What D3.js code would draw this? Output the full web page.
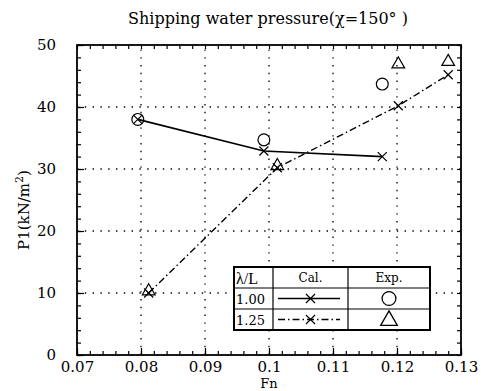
<!DOCTYPE html>
<html>
<head>
<meta charset="utf-8">
<script src="https://cdn.jsdelivr.net/npm/d3@7"></script>
<style>
body { margin: 0; background: #fff; }
svg { display: block; font-family: "DejaVu Serif", "Liberation Serif", serif; }
</style>
</head>
<body>
<script>
// values
const xTicks = [0.07, 0.08, 0.09, 0.1, 0.11, 0.12, 0.13];
const yTicks = [0, 10, 20, 30, 40, 50];

const fn100Cal = [0.0795, 0.0992, 0.1177];
const p100Cal = [38.0, 32.9, 32.0];
const fn125Cal = [0.0812, 0.1013, 0.1202, 0.1280];
const p125Cal = [10.0, 30.2, 40.2, 45.2];

const fn100Exp = [0.0795, 0.0992, 0.1177];
const p100Exp = [38.0, 34.7, 43.7];
const fn125Exp = [0.0812, 0.1013, 0.1202, 0.1280];
const p125Exp = [10.3, 30.5, 46.9, 47.3];

const legendRows = ["1.00", "1.25"];

const width = 481, height = 391;
const margin = { top: 45, right: 20, bottom: 36, left: 77 };

const svg = d3.select('body').append('svg')
    .attr('width', width).attr('height', height);

const xScale = d3.scaleLinear().domain([0.07, 0.13])
    .range([margin.left, width - margin.right]);
const yScale = d3.scaleLinear().domain([0, 50])
    .range([height - margin.bottom, margin.top]);

const x0 = xScale.range()[0], x1 = xScale.range()[1];
const y0 = yScale.range()[0], y1 = yScale.range()[1];

// grid (dotted)
const grid = svg.append('g').attr('stroke', '#000').attr('stroke-width', 1.3)
    .attr('stroke-dasharray', '1.4,6.4');
grid.selectAll('.gx').data(xTicks.slice(1, -1)).enter().append('line')
    .attr('x1', d => xScale(d)).attr('x2', d => xScale(d))
    .attr('y1', y0).attr('y2', y1);
grid.selectAll('.gy').data(yTicks.slice(1, -1)).enter().append('line')
    .attr('y1', d => yScale(d)).attr('y2', d => yScale(d))
    .attr('x1', x0).attr('x2', x1);

// minor tick values
const xMinor = d3.range(0, 31).map(i => 0.07 + i * 0.002);
const yMinor = d3.range(0, 26).map(i => i * 2);

// axes on four sides, ticks inward
function addAxis(axis, transform) {
    svg.append('g').attr('transform', transform).call(axis)
        .call(g => g.select('.domain').remove())
        .selectAll('line').attr('stroke-width', 1.2);
}
addAxis(d3.axisBottom(xScale).tickValues(xMinor).tickSizeInner(-4).tickFormat(''), `translate(0,${y0})`);
addAxis(d3.axisTop(xScale).tickValues(xMinor).tickSizeInner(-4).tickFormat(''), `translate(0,${y1})`);
addAxis(d3.axisLeft(yScale).tickValues(yMinor).tickSizeInner(-4).tickFormat(''), `translate(${x0},0)`);
addAxis(d3.axisRight(yScale).tickValues(yMinor).tickSizeInner(-4).tickFormat(''), `translate(${x1},0)`);

// major ticks + labels
const xAxis = svg.append('g').attr('transform', `translate(0,${y0})`)
    .call(d3.axisBottom(xScale).tickValues(xTicks).tickSizeInner(-7).tickSizeOuter(0)
        .tickPadding(6).tickFormat(d => d3.format('.2~f')(d)));
xAxis.select('.domain').remove();
xAxis.selectAll('line').attr('stroke-width', 1.2);
xAxis.selectAll('text').attr('font-size', 15).attr('fill', '#000')
    .attr('font-family', '"DejaVu Serif", serif');

const yAxis = svg.append('g').attr('transform', `translate(${x0},0)`)
    .call(d3.axisLeft(yScale).tickValues(yTicks).tickSizeInner(-7).tickSizeOuter(0)
        .tickPadding(21));
yAxis.select('.domain').remove();
yAxis.selectAll('line').attr('stroke-width', 1.2);
yAxis.selectAll('text').attr('font-size', 15).attr('fill', '#000')
    .attr('font-family', '"DejaVu Serif", serif');

// frame
svg.append('rect').attr('x', x0).attr('y', y1)
    .attr('width', x1 - x0).attr('height', y0 - y1)
    .attr('fill', 'none').attr('stroke', '#000').attr('stroke-width', 1.8);

// lines
const line = d3.line().x(d => xScale(d[0])).y(d => yScale(d[1]));
const cal100 = fn100Cal.map((f, i) => [f, p100Cal[i]]);
const cal125 = fn125Cal.map((f, i) => [f, p125Cal[i]]);

svg.append('path').attr('d', line(cal100))
    .attr('fill', 'none').attr('stroke', '#000').attr('stroke-width', 1.6);
svg.append('path').attr('d', line(cal125))
    .attr('fill', 'none').attr('stroke', '#000').attr('stroke-width', 1.4)
    .attr('stroke-dasharray', '7,3,1.5,3');

// markers
const cross = d3.symbol().type(d3.symbolX).size(55);
const circ = d3.symbol().type(d3.symbolCircle).size(110);
const tri = d3.symbol().type(d3.symbolTriangle).size(70);

function marks(pts, sym) {
    svg.append('g').selectAll('path').data(pts).enter().append('path')
        .attr('transform', d => `translate(${xScale(d[0])},${yScale(d[1])})`)
        .attr('d', sym)
        .attr('fill', 'none').attr('stroke', '#000').attr('stroke-width', 1.2);
}
marks(cal100, cross);
marks(cal125, cross);
marks(fn100Exp.map((f, i) => [f, p100Exp[i]]), circ);
marks(fn125Exp.map((f, i) => [f, p125Exp[i]]), tri);

// title and axis labels
svg.append('text').attr('x', 268).attr('y', 24).attr('text-anchor', 'middle')
    .attr('font-size', 16).text('Shipping water pressure(χ=150° )');

const yl = svg.append('text').attr('transform', 'translate(29,210) rotate(-90)')
    .attr('text-anchor', 'middle').attr('font-size', 15);
yl.append('tspan').text('P1(kN/m');
yl.append('tspan').attr('dy', -6).attr('font-size', 11).text('2');
yl.append('tspan').attr('dy', 6).text(')');

svg.append('text').attr('x', xScale(0.1)).attr('y', 388)
    .attr('text-anchor', 'middle').attr('font-size', 13).text('Fn');

// legend table
const lg = { x: 234, y: 267, w: 196, rowH: 21, c1: 273, c2: 348 };
const leg = svg.append('g');
leg.append('rect').attr('x', lg.x).attr('y', lg.y).attr('width', lg.w)
    .attr('height', lg.rowH * 3).attr('fill', '#fff')
    .attr('stroke', '#000').attr('stroke-width', 2);
[1, 2].forEach(r => leg.append('line').attr('x1', lg.x).attr('x2', lg.x + lg.w)
    .attr('y1', lg.y + r * lg.rowH).attr('y2', lg.y + r * lg.rowH)
    .attr('stroke', '#000').attr('stroke-width', 1.2));
[lg.c1, lg.c2].forEach(c => leg.append('line').attr('x1', c).attr('x2', c)
    .attr('y1', lg.y).attr('y2', lg.y + lg.rowH * 3)
    .attr('stroke', '#000').attr('stroke-width', 1.2));

leg.append('text').attr('x', lg.x + 2).attr('y', lg.y + 17).attr('font-size', 16)
    .attr('font-family', '"Liberation Serif", serif').text('λ/L');
leg.append('text').attr('x', (lg.c1 + lg.c2) / 2).attr('y', lg.y + 15)
    .attr('text-anchor', 'middle').attr('font-size', 12).text('Cal.');
leg.append('text').attr('x', (lg.c2 + lg.x + lg.w) / 2).attr('y', lg.y + 15)
    .attr('text-anchor', 'middle').attr('font-size', 12).text('Exp.');

const legDash = [null, '7,3,1.5,3'];
legendRows.forEach((lab, i) => {
    const cy = lg.y + (i + 1.5) * lg.rowH;
    leg.append('text').attr('x', lg.x + 2).attr('y', cy + 5)
        .attr('font-size', 13).text(lab);
    leg.append('line').attr('x1', lg.c1 + 5).attr('x2', lg.c2 - 8)
        .attr('y1', cy).attr('y2', cy).attr('stroke', '#000')
        .attr('stroke-width', 1.3).attr('stroke-dasharray', legDash[i]);
    leg.append('path').attr('transform', `translate(${(lg.c1 + lg.c2) / 2},${cy})`)
        .attr('d', cross).attr('fill', 'none').attr('stroke', '#000').attr('stroke-width', 1.2);
    leg.append('path').attr('transform', `translate(${(lg.c2 + lg.x + lg.w) / 2},${cy + (i ? 1 : 0)})`)
        .attr('d', d3.symbol().type(i ? d3.symbolTriangle : d3.symbolCircle).size(i ? 120 : 150))
        .attr('fill', 'none').attr('stroke', '#000').attr('stroke-width', 1.3);
});
</script>
</body>
</html>
